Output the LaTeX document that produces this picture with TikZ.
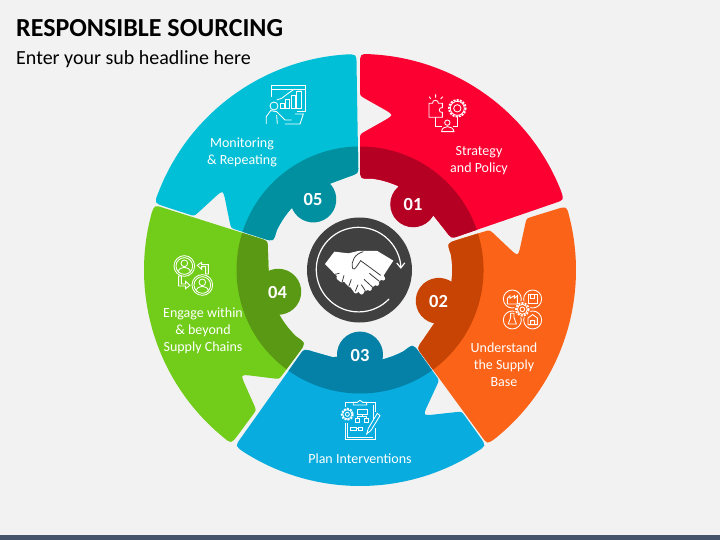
\documentclass[tikz,border=0pt]{standalone}
\usepackage{fontspec}
\setmainfont{Carlito}
\usetikzlibrary{arrows.meta}
\definecolor{pagebg}{HTML}{F2F2F2}
\definecolor{footbar}{HTML}{44546A}
\definecolor{hubgray}{HTML}{404040}
\definecolor{redmain}{HTML}{FB0030}
\definecolor{reddark}{HTML}{B50024}
\definecolor{orgmain}{HTML}{FB6418}
\definecolor{orgdark}{HTML}{C84404}
\definecolor{bluemain}{HTML}{08ACDE}
\definecolor{bluedark}{HTML}{0581A8}
\definecolor{grnmain}{HTML}{72CD1B}
\definecolor{grndark}{HTML}{5A9913}
\definecolor{cyanmain}{HTML}{00BFD6}
\definecolor{cyandark}{HTML}{0090A0}
\tikzset{
  caption/.style={text=white,font=\fontsize{14}{17}\selectfont,align=center,inner sep=0pt},
  numtag/.style={text=white,font=\bfseries\fontsize{18.5}{18}\selectfont,inner sep=0pt},
  icon/.style={draw=white,line width=0.85pt},
  teeth/.style={draw=white,line width=1.8pt,dash pattern=on 2pt off 1.2pt},
  shakeline/.style={draw=hubgray,line width=0.8pt},
  finger/.style={draw=white,line width=4.4pt,line cap=round},
}
% one puzzle piece, seen from the centre of the wheel
\newcommand{\piecepath}{
  (87:216) arc[start angle=87,end angle=21.5,radius=216]
  .. controls (204,70) .. (195,67) -- (98,33.7)
  .. controls (91.3,31.4) .. (85.3,39.5) -- (73,55) -- (53,66) -- (38,84)
  arc[start angle=65.7,end angle=82.5,radius=92.5]
  .. controls (0,91) .. (0,102) -- (0,130)
  .. controls (0,135.5) .. (4,138) -- (27,151)
  .. controls (33,155) .. (27,159) -- (4,172)
  .. controls (0,174.5) .. (0,180) -- (0,205)
  .. controls (0,216.5) .. (87:216) -- cycle}
% \puzzlepiece{rotation}{tab angle}{main}{dark}
\newcommand{\puzzlepiece}[4]{
  \begin{scope}[shift={(360pt,-270pt)},x=1pt,y=1pt,rotate=#1]
    \fill[#3] \piecepath;
    \begin{scope}
      \clip \piecepath;
      \fill[#4] (0,0) circle (123.5);
    \end{scope}
    \fill[#4] (#2:84.6) circle (23);
  \end{scope}
}
\begin{document}
\begin{tikzpicture}[x=1pt,y=-1pt]
  \useasboundingbox (0,0) rectangle (720,540);
  \fill[pagebg] (0,0) rectangle (720,540);
  \fill[footbar] (0,535) rectangle (720,540);

  \node (title) at (16,28) [anchor=west,inner sep=0pt,font=\bfseries\fontsize{26}{26}\selectfont] {RESPONSIBLE SOURCING};
  \node (subtitle) at (16,59.5) [anchor=west,inner sep=0pt,font=\fontsize{20}{20}\selectfont] {Enter your sub headline here};

  \puzzlepiece{0}{51}{redmain}{reddark}
  \puzzlepiece{-72.8}{51.4}{orgmain}{orgdark}
  \puzzlepiece{-144.3}{54.3}{bluemain}{bluedark}
  \puzzlepiece{-216.5}{51.4}{grnmain}{grndark}
  \puzzlepiece{-288}{51.5}{cyanmain}{cyandark}

  \node (num1) at (413,204) [numtag] {01};
  \node (num2) at (438.5,301) [numtag] {02};
  \node (num3) at (360,355) [numtag] {03};
  \node (num4) at (277.5,292) [numtag] {04};
  \node (num5) at (313,199) [numtag] {05};

  \node (strategy) at (479,160.5) [caption] {Strategy\\and Policy};
  \node (understand) at (504,365) [caption] {Understand\\the Supply\\Base};
  \node (plan) at (360,458.5) [caption] {Plan Interventions};
  \node (engage) at (203,331) [caption] {Engage within\\\& beyond\\Supply Chains};
  \node (monitoring) at (242,152) [caption] {Monitoring\\\& Repeating};

  % hub
  \fill[hubgray] (359.5,270) circle (52.5);
  \draw[white,line width=1.2pt,-{Straight Barb[length=5pt,width=8pt]}] (389,299) arc[start angle=44,end angle=359,radius=42.3];
  \begin{scope}[shift={(280pt,-190pt)},x=0.3333pt,y=-0.3333pt]
    \fill[white] (135,222) -- (163,185) -- (205,190) -- (235,183) -- (292,183) -- (340,212) -- (315,250)
      -- (305,268) -- (290,283) -- (268,298) -- (245,308) -- (225,300) -- (175,262) -- (165,253) -- cycle;
    % fingers
    \draw[finger] (300,258) -- (309,265) (282,272) -- (291,281) (262,286) -- (269,296) (238,298) -- (245,307);
    \draw[finger] (176,263) -- (186,271) (200,274) -- (211,286) (219,291) -- (228,304);
    \draw[shakeline] (218,236) .. controls (212,212) and (225,192) .. (250,185);
    \draw[shakeline] (218,236) .. controls (225,240) and (228,232) .. (242,212) -- (302,256);
    \draw[shakeline] (165,253) -- (178,250) (192,256) -- (186,278) (214,268) -- (206,290) (234,284) -- (226,304);
    \draw[shakeline] (268,250) -- (298,274) (252,268) -- (278,292) (244,284) -- (256,302);
  \end{scope}

  % strategy icon
  \begin{scope}[shift={(340pt,-40pt)},x=0.3333pt,y=-0.3333pt]
    \draw[icon] (287,232) -- (267,232) -- (267,190) -- (278,190) .. controls (275,178) and (297,178) .. (295,190) -- (307,190)
      -- (307,203) .. controls (295,200) and (295,220) .. (307,217) -- (307,232) -- cycle;
    \draw[teeth] (352,205) circle (25);
    \draw[icon] (352,205) circle (21) (352,205) circle (11);
    \draw[icon] (287,232) -- (287,260) -- (305,260) (352,228) -- (352,260) -- (338,260);
    \draw[icon] (322,248) circle (8) (305,275) .. controls (305,255) and (340,255) .. (342,275) -- cycle;
    \draw[icon] (268,170) -- (272,177) (287,163) -- (287,173) (308,170) -- (302,177);
  \end{scope}

  % monitoring icon
  \begin{scope}[shift={(140pt,-40pt)},x=0.3333pt,y=-0.3333pt]
    \draw[icon] (393,170) -- (393,137) -- (497,137) -- (497,215) -- (470,215);
    \draw[icon] (393,147) -- (497,147);
    \draw[icon] (422,205) rectangle (432,190) (437,205) rectangle (447,178) (453,205) rectangle (465,165) (470,205) rectangle (483,155);
    \draw[icon] (410,180) -- (425,175) -- (442,162) -- (462,148) -- (485,150);
    \draw[icon] (402,198) circle (12);
    \draw[icon] (379,252) -- (379,230) -- (392,212) -- (410,215) -- (435,240) -- (455,240) (410,225) -- (412,252);
    \draw[icon] (465,222) -- (490,222) -- (480,252) -- (435,252);
  \end{scope}

  % supply base icon
  \begin{scope}[shift={(400pt,-200pt)},x=0.3333pt,y=-0.3333pt]
    \draw[icon] (337,297) circle (27) (398,297) circle (27) (337,360) circle (27) (398,360) circle (27);
    \fill[orgmain] (367,328) circle (25);
    \draw[teeth] (367,328) circle (19);
    \draw[icon] (367,328) circle (15) (367,328) circle (7);
    \draw[icon] (322,312) -- (322,295) -- (330,287) -- (330,295) -- (343,287) -- (343,295) -- (352,287) -- (352,312) -- cycle;
    \draw[icon] (384,284) rectangle (412,310) (392,284) -- (392,296) -- (404,296) -- (404,284);
    \draw[icon] (332,340) -- (342,340) -- (342,352) -- (349,372) -- (325,372) -- (332,352) -- cycle;
    \draw[icon] (384,374) -- (384,354) -- (398,344) -- (412,354) -- (412,374) -- cycle (392,374) -- (392,362) -- (404,362) -- (404,374);
  \end{scope}

  % plan icon
  \begin{scope}[shift={(230pt,-330pt)},x=0.3333pt,y=-0.3333pt]
    \draw[icon] (347,278) -- (347,328) -- (437,328) -- (437,295) (437,245) -- (437,218) -- (410,218) (370,218) -- (347,218) -- (347,232);
    \draw[icon] (353,278) -- (353,322) -- (430,322) (430,224) -- (430,270);
    \draw[icon] (370,225) -- (370,217) -- (382,217) -- (390,211) -- (398,217) -- (410,217) -- (410,225) -- cycle;
    \draw[teeth] (352,253) circle (17);
    \draw[icon] (352,253) circle (14) (352,253) circle (6);
    \draw[icon] (382,237) rectangle (412,252) (375,265) rectangle (388,278) (403,265) rectangle (415,278) (362,292) rectangle (378,300) (385,292) rectangle (398,300);
    \draw[icon] (397,252) -- (397,258) -- (381,258) -- (381,265) (397,258) -- (409,258) -- (409,265) (378,296) -- (385,296);
    \draw[icon] (442,250) -- (415,295) -- (410,312) -- (423,301) -- (450,257) -- cycle;
  \end{scope}

  % engage icon
  \begin{scope}[shift={(135pt,-200pt)},x=0.3333pt,y=-0.3333pt]
    \draw[icon] (148,198) circle (31) (148,198) circle (25) (202,255) circle (31) (202,255) circle (25);
    \draw[icon] (148,190) circle (10) (130,217) .. controls (130,197) and (166,197) .. (166,217);
    \draw[icon] (202,247) circle (10) (184,274) .. controls (184,254) and (220,254) .. (220,274);
    \draw[icon] (212,222) -- (212,200) -- (200,200) -- (200,208) -- (187,196) -- (200,187) -- (200,194) -- (220,194) -- (220,222) -- cycle;
    \draw[icon] (139,228) -- (139,252) -- (152,252) -- (152,244) -- (165,256) -- (152,266) -- (152,258) -- (131,258) -- (131,228) -- cycle;
  \end{scope}
\end{tikzpicture}
\end{document}
